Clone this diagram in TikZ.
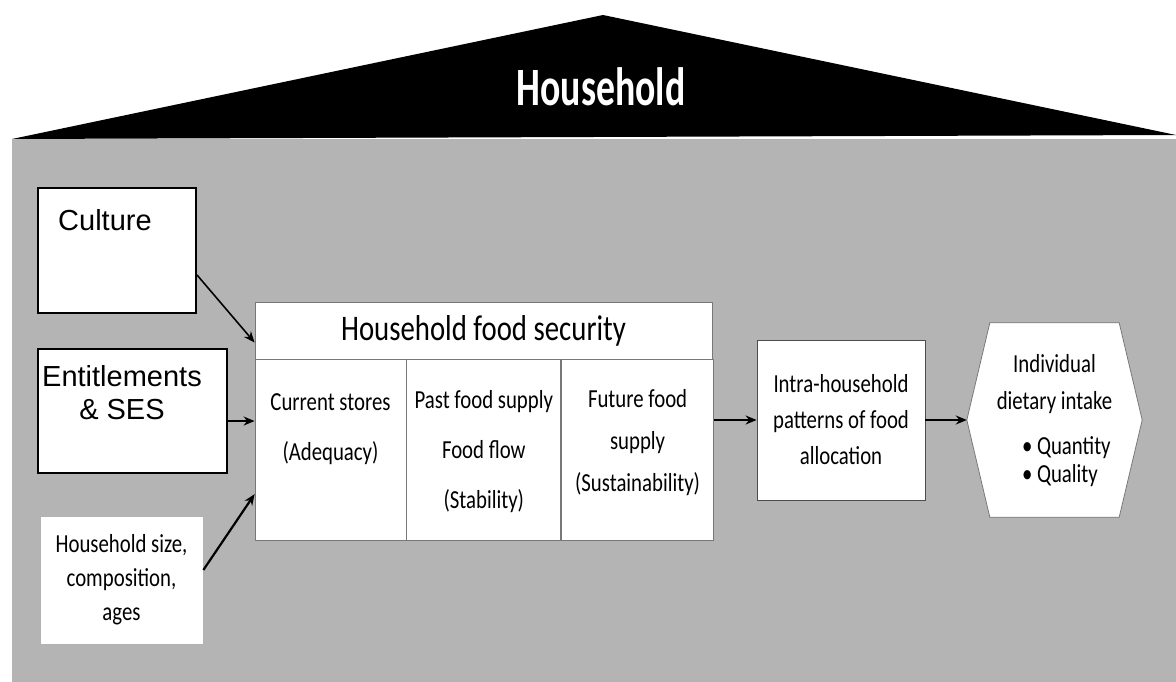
\documentclass[tikz,border=0pt]{standalone}
\usepackage{fontspec}
\setmainfont{Carlito}
\newfontfamily\calfont[FakeStretch=0.8]{Carlito}
\newfontfamily\rooffont[FakeStretch=0.7]{Carlito}
\newfontfamily\arialfont{Liberation Sans}
\usetikzlibrary{arrows.meta,positioning}
\definecolor{housegray}{RGB}{180,180,180}
\definecolor{linegray}{RGB}{120,120,120}

\begin{document}
\begin{tikzpicture}[x=1pt, y=-1pt,
    whitebox/.style={rectangle, draw=black, line width=2pt, fill=white, inner sep=0pt},
    cellbox/.style={rectangle, draw=linegray, line width=0.8pt, fill=white, inner sep=0pt},
    celltxt/.style={align=center, inner sep=0pt, text=black, font=\calfont\fontsize{26}{50}\selectfont},
    armtxt/.style={inner sep=0pt, font=\arialfont\fontsize{29}{33}\selectfont},
    arrow/.style={-{Stealth[length=11pt,width=9pt]}, line width=2.2pt}
]
    \useasboundingbox (0,0) rectangle (1176,682);

    % house body and roof
    \fill[housegray] (12,139) rectangle (1176,682);
    \fill[black] (12,139) -- (603,15) -- (1176,135) -- cycle;
    \node[anchor=base, inner sep=0pt, text=white, font=\rooffont\bfseries\fontsize{54}{60}\selectfont] (roofl) at (601,106) {Household};

    % input boxes on the left
    \node[whitebox, minimum width=158pt, minimum height=125pt] (cult) at (117,250.5) {};
    \node[armtxt, below right=22pt and 21pt of cult.north west] (cultl) {Culture};
    \node[whitebox, minimum width=189pt, minimum height=124pt] (ent) at (132.5,411) {};
    \node[armtxt, align=center, below right=17pt and 5pt of ent.north west] (entl) {Entitlements\\ \& SES};
    \node[cellbox, draw=gray!60, minimum width=163pt, minimum height=128pt, celltxt, font=\calfont\fontsize{26}{34}\selectfont] (hsz) at (121.5,580) {Household size,\\composition,\\ages};

    % household food security table
    \node[cellbox, minimum width=457pt, minimum height=57pt, font=\calfont\fontsize{36}{40}\selectfont] (fshead) at (483.5,330.5) {Household food security};
    \node[cellbox, minimum width=151pt, minimum height=181pt, anchor=north west] (col1) at (fshead.south west) {};
    \node[cellbox, minimum width=154pt, minimum height=181pt, anchor=north west] (col2) at (col1.north east) {};
    \node[cellbox, minimum width=152pt, minimum height=181pt, anchor=north west] (col3) at (col2.north east) {};
    \node[celltxt, below=34pt of col1.north] (col1l) {Current stores\\(Adequacy)};
    \node[celltxt, below=31pt of col2.north] (col2l) {Past food supply\\Food flow\\(Stability)};
    \node[celltxt, font=\calfont\fontsize{26}{42}\selectfont, below=30pt of col3.north] (col3l) {Future food\\supply\\(Sustainability)};

    % allocation and intake
    \node[cellbox, draw=black!70, minimum width=168pt, minimum height=160pt, celltxt, font=\calfont\fontsize{26}{36}\selectfont] (intra) at (841,420) {Intra-household\\patterns of food\\allocation};
    \node[minimum width=175pt, minimum height=194pt, inner sep=0pt] (indiv) at (1054.5,420) {};
    \draw[linegray, line width=0.8pt, fill=white] ([xshift=23pt]indiv.north west) -- ([xshift=-23pt]indiv.north east) -- (indiv.east) -- ([xshift=-23pt]indiv.south east) -- ([xshift=23pt]indiv.south west) -- (indiv.west) -- cycle;
    \node[celltxt, font=\calfont\fontsize{26}{37}\selectfont, below=31pt of indiv.north] (indivl) {Individual\\dietary intake};
    \node[celltxt, align=left, font=\calfont\fontsize{26}{28}\selectfont, below right=114pt and 55pt of indiv.north west] (indivq) {• Quantity\\• Quality};

    % arrows
    \draw[arrow, line width=1.6pt] (cult.-17) -- (fshead.183.6);
    \draw[arrow] (ent.-6.6) -- (ent.-6.6 -| col1.west);
    \draw[arrow] (hsz.7) -- (col1.210.7);
    \draw[arrow] (col3.east |- intra.west) -- (intra.west);
    \draw[arrow] (intra.east) -- (indiv.west);
\end{tikzpicture}
\end{document}
